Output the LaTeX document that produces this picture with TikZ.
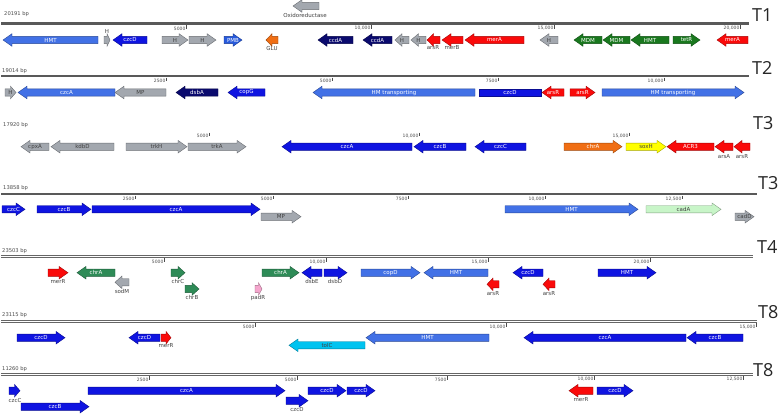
\documentclass[tikz,border=0pt]{standalone}
\usepackage{fontspec}
\setmainfont{DejaVu Sans}
\newfontfamily\tfont{Open Sans}
\definecolor{cMed}{RGB}{66,113,230}
\definecolor{cBlue}{RGB}{15,20,225}
\definecolor{cNavy}{RGB}{10,10,110}
\definecolor{cGray}{RGB}{163,168,175}
\definecolor{cRed}{RGB}{250,10,10}
\definecolor{cDGreen}{RGB}{25,120,30}
\definecolor{cSea}{RGB}{46,139,87}
\definecolor{cOrange}{RGB}{240,110,20}
\definecolor{cYellow}{RGB}{255,255,0}
\definecolor{cLGreen}{RGB}{200,245,200}
\definecolor{cCyan}{RGB}{0,195,240}
\definecolor{cPink}{RGB}{245,165,205}
\definecolor{cPMB}{RGB}{40,90,220}
\newcounter{gc}
\tikzset{
  gshape/.style={line width=0.4pt},
  gtxt/.style={font=\fontsize{5.5}{6}\selectfont, inner sep=0pt},
  gbl/.style={font=\fontsize{5.5}{6}\selectfont, text=black!75, inner sep=0pt},
  bpl/.style={font=\fontsize{5.2}{6}\selectfont, text=black!70, anchor=west, inner sep=0pt},
  tkl/.style={font=\fontsize{4.5}{5}\selectfont, text=black!70, anchor=east, inner sep=0pt},
  tlab/.style={font=\tfont\fontsize{18}{20}\selectfont, anchor=west, inner sep=0pt, text=black!85},
  solidline/.style={draw=black!65, line width=2.6pt},
  dblline/.style={draw=black!60, double=white, line width=0.9pt, double distance=1.1pt},
  tickline/.style={draw=black!70, line width=0.5pt}
}
% right-pointing gene: x1, x2, y, colour, label, label colour
\newcommand\gR[6]{%
  \stepcounter{gc}%
  \pgfmathsetmacro\hl{min(9,0.5*(#2-#1))}%
  \pgfmathsetmacro\hx{#2-\hl}%
  \filldraw[gshape, fill=#4, draw=#4!65!black] (#1,#3-3.6) -- (\hx,#3-3.6) -- (\hx,#3-6.3) -- (#2,#3) -- (\hx,#3+6.3) -- (\hx,#3+3.6) -- (#1,#3+3.6) -- cycle;
  \node[gtxt, text=#6] (g\thegc) at ({(#1+#2)/2},#3) {#5};}
% left-pointing gene
\newcommand\gL[6]{%
  \stepcounter{gc}%
  \pgfmathsetmacro\hl{min(9,0.5*(#2-#1))}%
  \pgfmathsetmacro\hx{#1+\hl}%
  \filldraw[gshape, fill=#4, draw=#4!65!black] (#2,#3-3.6) -- (\hx,#3-3.6) -- (\hx,#3-6.3) -- (#1,#3) -- (\hx,#3+6.3) -- (\hx,#3+3.6) -- (#2,#3+3.6) -- cycle;
  \node[gtxt, text=#6] (g\thegc) at ({(#1+#2)/2},#3) {#5};}
% box gene
\newcommand\gB[6]{%
  \stepcounter{gc}%
  \filldraw[gshape, fill=#4, draw=#4!65!black] (#1,#3-3.6) rectangle (#2,#3+3.6);
  \node[gtxt, text=#6] (g\thegc) at ({(#1+#2)/2},#3) {#5};}
% label below a gene
\newcommand\lb[3]{\stepcounter{gc}\node[gbl] (g\thegc) at (#1,#2) {#3};}
% tick: x, line y, text
\newcommand\tk[3]{\stepcounter{gc}\draw[tickline] (#1,#2+1.5) -- (#1,#2+5);
  \node[tkl] (g\thegc) at (#1-0.4,#2+5) {#3};}
\begin{document}
\begin{tikzpicture}[x=1pt,y=-1pt]
\fill[white] (0,0) rectangle (778,413);
\useasboundingbox (0,0) rectangle (778,413);

% ---------------- T1 ----------------
\draw[solidline] (1,23.5) -- (749,23.5);
\node[bpl] (bp1) at (4,14) {20191 bp};
\node[tlab] (t1) at (752,15.5) {T1};
\tk{186}{23.5}{5000}\tk{371}{23.5}{10,000}\tk{554}{23.5}{15,000}\tk{740}{23.5}{20,000}
\gL{293}{319}{6}{cGray}{}{white}\lb{305}{15.5}{Oxidoreductase}
\gL{3}{98}{40}{cMed}{HMT}{white}
\gR{104}{110}{40}{cGray}{}{white}\lb{107}{31}{H}
\gL{113}{147}{40}{cBlue}{czcD}{white}
\gR{162}{188}{40}{cGray}{H}{black!75}
\gR{189}{216}{40}{cGray}{H}{black!75}
\gR{224}{242}{40}{cPMB}{PMB}{white}
\gL{266}{278}{40}{cOrange}{}{white}\lb{272}{48}{GLU}
\gL{318}{353}{40}{cNavy}{ccdA}{white}
\gL{363}{392}{40}{cNavy}{ccdA}{white}
\gL{395}{409}{40}{cGray}{H}{black!75}
\gL{411}{426}{40}{cGray}{H}{black!75}
\gL{427}{440}{40}{cRed}{}{white}\lb{433}{48}{arsR}
\gL{442}{463}{40}{cRed}{}{white}\lb{452}{48}{merB}
\gL{465}{524}{40}{cRed}{merA}{white}
\gL{540}{558}{40}{cGray}{H}{black!75}
\gL{574}{602}{40}{cDGreen}{MDM}{white}
\gL{603}{630}{40}{cDGreen}{MDM}{white}
\gL{631}{669}{40}{cDGreen}{HMT}{white}
\gR{673}{700}{40}{cDGreen}{tetR}{white}
\gL{717}{748}{40}{cRed}{merA}{white}

% ---------------- T2 ----------------
\draw[solidline] (1,76) -- (749,76);
\node[bpl] (bp2) at (2,71.5) {19014 bp};
\node[tlab] (t2) at (752,68) {T2};
\tk{166}{76}{2500}\tk{332}{76}{5000}\tk{498}{76}{7500}\tk{664}{76}{10,000}
\gR{5}{16}{92.5}{cGray}{H}{black!75}
\gL{18}{115}{92.5}{cMed}{czcA}{white}
\gL{115}{166}{92.5}{cGray}{MP}{black!75}
\gL{176}{218}{92.5}{cNavy}{dsbA}{white}
\gL{228}{265}{92.5}{cBlue}{copG}{white}
\gL{313}{475}{92.5}{cMed}{HM transporting}{white}
\gB{479}{541}{92.5}{cBlue}{czcD}{white}
\gL{542}{564}{92.5}{cRed}{arsR}{white}
\gR{570}{595}{92.5}{cRed}{arsR}{white}
\gR{602}{744}{92.5}{cMed}{HM transporting}{white}

% ---------------- T3 (a) ----------------
\draw[dblline] (1,131) -- (753,131);
\node[bpl] (bp3) at (3,125.5) {17920 bp};
\node[tlab] (t3) at (753,123) {T3};
\tk{209}{131}{5000}\tk{419}{131}{10,000}\tk{629}{131}{15,000}
\gL{21}{49}{146.7}{cGray}{cpxA}{black!75}
\gL{51}{114}{146.7}{cGray}{kdbD}{black!75}
\gR{126}{187}{146.7}{cGray}{trkH}{black!75}
\gR{188}{246}{146.7}{cGray}{trkA}{black!75}
\gL{282}{412}{146.7}{cBlue}{czcA}{white}
\gL{414}{466}{146.7}{cBlue}{czcB}{white}
\gL{475}{526}{146.7}{cBlue}{czcC}{white}
\gR{564}{622}{146.7}{cOrange}{chrA}{white}
\gR{626}{666}{146.7}{cYellow}{soxH}{black!75}
\gL{667}{714}{146.7}{cRed}{ACR3}{white}
\gL{715}{733}{146.7}{cRed}{}{white}\lb{724}{156.7}{arsA}
\gL{734}{750}{146.7}{cRed}{}{white}\lb{742}{156.7}{arsR}

% ---------------- T3 (b) ----------------
\draw[solidline] (1,194) -- (757,194);
\node[bpl] (bp4) at (3,188.3) {13858 bp};
\node[tlab] (t3b) at (758,183) {T3};
\tk{135}{194}{2500}\tk{273}{194}{5000}\tk{408}{194}{7500}\tk{545}{194}{10,000}\tk{682}{194}{12,500}
\gR{2}{25}{209.3}{cBlue}{czcC}{white}
\gR{37}{91}{209.3}{cBlue}{czcB}{white}
\gR{92}{260}{209.3}{cBlue}{czcA}{white}
\gR{261}{301}{216.7}{cGray}{MP}{black!75}
\gR{505}{638}{209.3}{cMed}{HMT}{white}
\gR{646}{721}{209.3}{cLGreen}{cadA}{black!75}
\gR{735}{754}{216.7}{cGray}{cadD}{black!75}

% ---------------- T4 ----------------
\draw[dblline] (1,256.7) -- (753,256.7);
\node[bpl] (bp5) at (2,251) {23503 bp};
\node[tlab] (t4) at (757,247.5) {T4};
\tk{164}{256.7}{5000}\tk{326}{256.7}{10,000}\tk{488}{256.7}{15,000}\tk{650}{256.7}{20,000}
\gR{48}{68}{272.7}{cRed}{}{white}\lb{58}{281.7}{merR}
\gL{77}{115}{272.7}{cSea}{chrA}{white}
\gL{115}{129}{282.3}{cGray}{}{white}\lb{122}{291.7}{sodM}
\gR{171}{185}{272.7}{cSea}{}{white}\lb{178}{281.7}{chrC}
\gR{185}{199}{289}{cSea}{}{white}\lb{192}{297.7}{chrB}
\gR{255}{262}{289}{cPink}{}{white}\lb{258}{297.7}{padR}
\gR{262}{299}{272.7}{cSea}{chrA}{white}
\gL{302}{322}{272.7}{cBlue}{}{white}\lb{312}{281.7}{dsbE}
\gR{324}{347}{272.7}{cBlue}{}{white}\lb{335}{281.7}{dsbD}
\gR{361}{420}{272.7}{cMed}{copD}{white}
\gL{424}{488}{272.7}{cMed}{HMT}{white}
\gL{487}{499}{284.3}{cRed}{}{white}\lb{493}{293.3}{arsR}
\gL{513}{543}{272.7}{cBlue}{czcD}{white}
\gL{543}{555}{284.3}{cRed}{}{white}\lb{549}{293.3}{arsR}
\gR{598}{656}{272.7}{cBlue}{HMT}{white}

% ---------------- T8 (a) ----------------
\draw[dblline] (1,321.7) -- (757,321.7);
\node[bpl] (bp6) at (2,315) {23115 bp};
\node[tlab] (t8) at (758,312) {T8};
\tk{255}{321.7}{5000}\tk{506}{321.7}{10,000}\tk{756}{321.7}{15,000}
\gR{17}{65}{337.7}{cBlue}{czcD}{white}
\gL{129}{160}{337.7}{cBlue}{czcD}{white}
\gR{161}{171}{337.7}{cRed}{}{white}\lb{166}{346}{merR}
\gL{289}{365}{345.3}{cCyan}{tolC}{black!75}
\gL{366}{489}{337.7}{cMed}{HMT}{white}
\gL{524}{686}{337.7}{cBlue}{czcA}{white}
\gL{687}{743}{337.7}{cBlue}{czcB}{white}

% ---------------- T8 (b) ----------------
\draw[dblline] (1,374.5) -- (753,374.5);
\node[bpl] (bp7) at (2,369.3) {11260 bp};
\node[tlab] (t8b) at (753,370) {T8};
\tk{149}{374.5}{2500}\tk{297}{374.5}{5000}\tk{447}{374.5}{7500}\tk{594}{374.5}{10,000}\tk{743}{374.5}{12,500}
\gR{9}{20}{390.7}{cBlue}{}{white}\lb{15}{400}{czcC}
\gR{21}{89}{406.7}{cBlue}{czcB}{white}
\gR{88}{285}{390.7}{cBlue}{czcA}{white}
\gR{286}{308}{400.7}{cBlue}{}{white}\lb{297}{410}{czcD}
\gR{308}{346}{390.7}{cBlue}{czcD}{white}
\gR{347}{375}{390.7}{cBlue}{czcD}{white}
\gL{569}{593}{390.7}{cRed}{}{white}\lb{581}{400}{merR}
\gR{597}{633}{390.7}{cBlue}{czcD}{white}
\end{tikzpicture}
\end{document}
